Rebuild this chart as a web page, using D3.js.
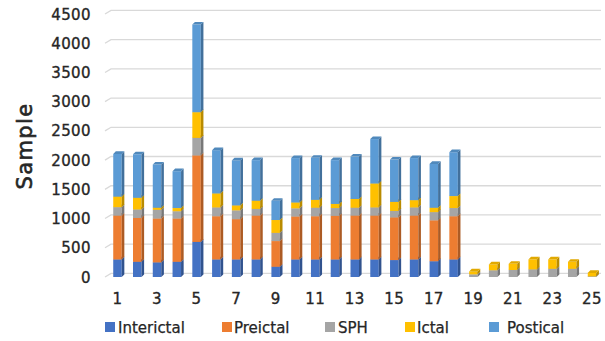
<!DOCTYPE html>
<html>
<head>
<meta charset="utf-8">
<script src="https://cdn.jsdelivr.net/npm/d3@7"></script>
<style>
  html, body { margin: 0; padding: 0; background: #fff; }
  svg { display: block; font-family: "DejaVu Sans", sans-serif; }
</style>
</head>
<body>
<svg id="chart" width="605" height="341"></svg>
<script>
// Sample counts per recording, stacked by seizure phase
const categories = [1,2,3,4,5,6,7,8,9,10,11,12,13,14,15,16,17,18,19,20,21,22,23,24,25];
const interictal = [300,260,250,260,600,300,300,300,175,300,300,300,300,300,290,300,270,300,0,0,0,0,0,0,0];
const preictal   = [750,750,750,740,1480,740,690,750,440,735,740,745,750,750,730,750,700,740,0,0,0,0,0,0,0];
const sph        = [145,145,150,125,300,150,150,115,140,140,145,135,135,140,110,140,140,140,45,115,120,130,140,140,10];
const ictal      = [180,200,35,55,440,240,85,140,220,100,135,70,150,410,155,125,75,205,50,100,105,170,160,120,60];
const postical   = [730,745,740,630,1500,740,770,695,330,760,720,750,725,760,725,720,750,750,0,0,0,0,0,0,0];

const seriesNames = ["Interictal","Preictal","SPH","Ictal","Postical"];
const seriesColors = ["#4472C4","#ED7D31","#A5A5A5","#FFC000","#5B9BD5"];
const yTicks = [0,500,1000,1500,2000,2500,3000,3500,4000,4500];
const xTickLabels = [1,3,5,7,9,11,13,15,17,19,21,23,25];

const rows = categories.map((c, i) => ({
  cat: c,
  Interictal: interictal[i], Preictal: preictal[i], SPH: sph[i],
  Ictal: ictal[i], Postical: postical[i]
}));
const stacked = d3.stack().keys(seriesNames)(rows);

const svg = d3.select("#chart");
const textColor = "#262626";

// oblique depth of the 3D bars and of the back wall
const depth = 2.6;
const wallDx = 6, wallDy = 3.6;

const x = d3.scaleBand()
  .domain(categories)
  .range([107.6, 601.9])
  .paddingInner(0.57)
  .paddingOuter(0.285);

const y = d3.scaleLinear().domain([0, 4500]).range([277, 14]);

// back-wall gridlines with the short slanted side-wall segment
const grid = svg.append("g").attr("stroke", "#d9d9d9").attr("stroke-width", 1.3).attr("fill", "none");
yTicks.forEach(v => {
  const yy = y(v);
  grid.append("path")
    .attr("d", `M105,${yy} L${105 + wallDx},${yy - wallDy} L601,${yy - wallDy}`);
});

// y-axis labels
svg.append("g")
  .selectAll("text")
  .data(yTicks)
  .join("text")
  .attr("x", 91)
  .attr("y", d => y(d) + 5.5)
  .attr("text-anchor", "end")
  .attr("font-size", 15)
  .attr("letter-spacing", 0.4)
  .attr("fill", textColor)
  .attr("stroke", textColor)
  .attr("stroke-width", 0.35)
  .text(d => d);

// y-axis title
svg.append("text")
  .attr("transform", "translate(32,146) rotate(-90)")
  .attr("text-anchor", "middle")
  .attr("font-size", 21)
  .attr("letter-spacing", 1.4)
  .attr("fill", textColor)
  .attr("stroke", textColor)
  .attr("stroke-width", 0.6)
  .text("Sample");

// stacked 3D columns
const bars = svg.append("g");
stacked.forEach((layer, si) => {
  const base = d3.color(seriesColors[si]);
  const side = base.darker(0.9).formatHex();
  const top = base.darker(0.35).formatHex();
  layer.forEach(seg => {
    const v0 = seg[0], v1 = seg[1];
    if (v1 - v0 <= 0) return;
    const x0 = x(seg.data.cat), x1 = x0 + x.bandwidth();
    const yb = y(v0), yt = y(v1);
    const g = bars.append("g");
    g.append("rect")
      .attr("x", x0).attr("y", yt)
      .attr("width", x1 - x0).attr("height", yb - yt)
      .attr("fill", base.formatHex());
    g.append("path")
      .attr("d", `M${x1},${yb} L${x1 + depth},${yb - depth} L${x1 + depth},${yt - depth} L${x1},${yt} Z`)
      .attr("fill", side);
    g.append("path")
      .attr("d", `M${x0},${yt} L${x0 + depth},${yt - depth} L${x1 + depth},${yt - depth} L${x1},${yt} Z`)
      .attr("fill", top);
  });
});

// x-axis labels (every other recording)
svg.append("g")
  .selectAll("text")
  .data(xTickLabels)
  .join("text")
  .attr("x", d => x(d) + x.bandwidth() / 2)
  .attr("y", 304)
  .attr("text-anchor", "middle")
  .attr("font-size", 15)
  .attr("letter-spacing", 0.4)
  .attr("fill", textColor)
  .attr("stroke", textColor)
  .attr("stroke-width", 0.35)
  .text(d => d);

// legend
const legendX = [105, 222, 325, 405, 489];
const legendTextX = [118, 234, 338, 417, 507];
const legend = svg.append("g");
seriesNames.forEach((name, i) => {
  legend.append("rect")
    .attr("x", legendX[i]).attr("y", 322)
    .attr("width", 10).attr("height", 10)
    .attr("fill", seriesColors[i]);
  legend.append("text")
    .attr("x", legendTextX[i]).attr("y", 333)
    .attr("font-size", 15)
    .attr("fill", textColor)
    .attr("stroke", textColor)
    .attr("stroke-width", 0.25)
    .text(name);
});
</script>
</body>
</html>
